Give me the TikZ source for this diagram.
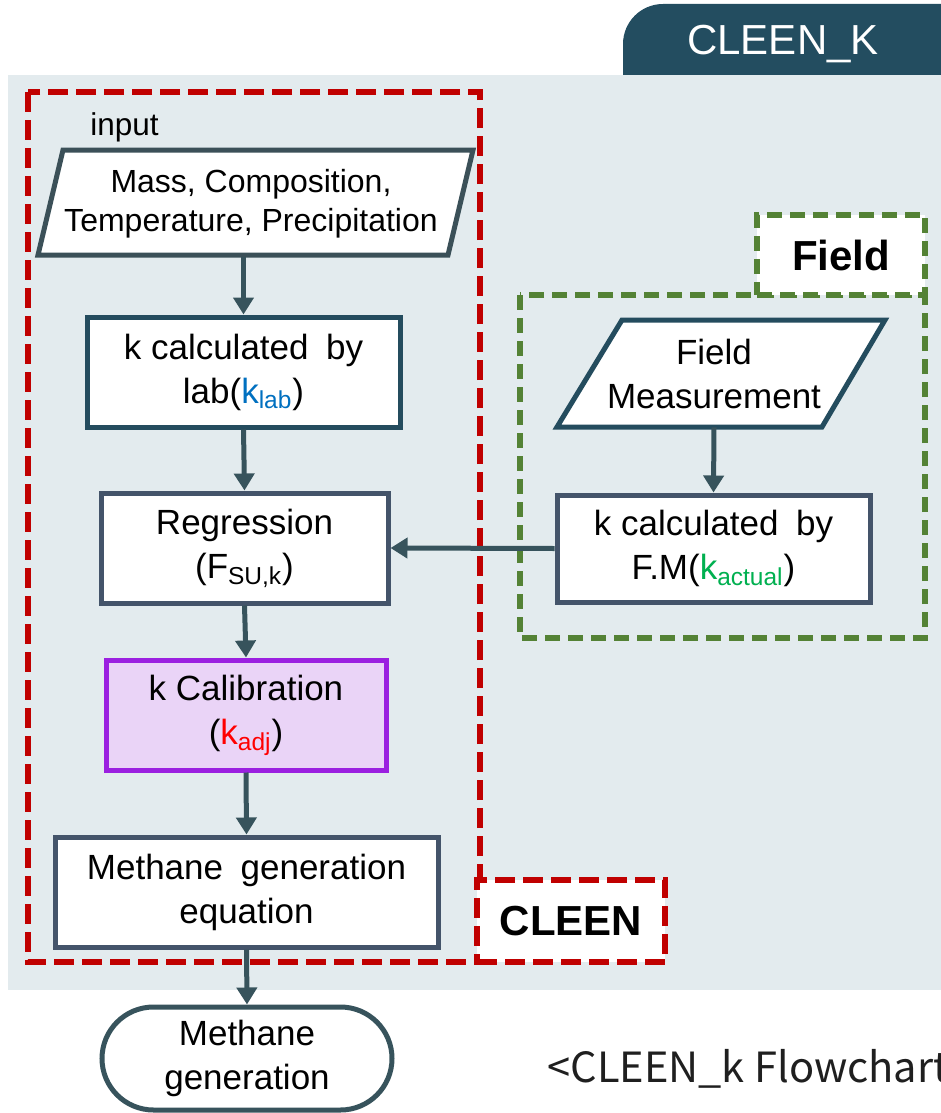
\documentclass[tikz,border=0pt]{standalone}
\usepackage{fontspec}
\setmainfont{Liberation Sans}
\newfontfamily\capfont{Noto Sans CJK KR}
\usetikzlibrary{arrows.meta,calc}
\definecolor{panel}{HTML}{E3EBEE}
\definecolor{tabc}{HTML}{234D60}
\definecolor{redd}{HTML}{C00000}
\definecolor{greend}{HTML}{548235}
\definecolor{boxa}{HTML}{244C5E}
\definecolor{boxb}{HTML}{44546A}
\definecolor{parac}{HTML}{3B5058}
\definecolor{arrc}{HTML}{37535C}
\definecolor{calb}{HTML}{9B20E0}
\definecolor{calf}{HTML}{EAD4F7}
\definecolor{kblue}{HTML}{0070C0}
\definecolor{kgreen}{HTML}{00B050}
\definecolor{kred}{HTML}{FF0000}
\newcommand\fsz[2]{\fontsize{#1}{#2}\selectfont}
\begin{document}
\begin{tikzpicture}[x=0.5pt,y=-0.5pt,
  every node/.style={inner sep=0pt, align=center},
  flowbox/.style={draw=#1, line width=2.5pt, fill=white, font=\fsz{17.5}{22}},
  paratext/.style={font=\fsz{17.5}{22}},
  arr/.style={draw=arrc, line width=2.5pt, -{Triangle[width=10pt,length=8.5pt]}},
  reddash/.style={draw=redd, line width=3pt, dash pattern=on 10pt off 4pt},
  greendash/.style={draw=greend, line width=3pt, dash pattern=on 7.5pt off 4pt},
  parashape/.style={draw=#1, line width=2.5pt, fill=white, line join=miter},
  lblbox/.style={fill=white, line width=3pt, font=\bfseries\fsz{21}{25}},
]
\path[use as bounding box] (0,0) rectangle (941,1113);
\clip (0,0) rectangle (941,1113);
% tab and panel
\fill[tabc, rounded corners=20pt] (623,4) rectangle (1000,200);
\node[anchor=base, text=white, font=\fsz{21}{25}] (tabt) at (783,55) {CLEEN\_K};
\fill[panel] (8,75) rectangle (1000,990);
% group frames
\draw[reddash] (28,92) rectangle (480,962);
\draw[greendash] (520,295) rectangle (925,638);
\node[lblbox, draw=redd, dash pattern=on 10pt off 4pt, minimum width=94pt, minimum height=41pt] (cleenlbl) at (571,921) {CLEEN};
\node[lblbox, draw=greend, dash pattern=on 7.5pt off 4pt, minimum width=84pt, minimum height=40pt] (fieldlbl) at (841,255) {Field};
% input
\node[anchor=base west, font=\fsz{15.75}{19}] (inlbl) at (90,135) {input};
\draw[parashape=parac] (63,150) -- (473,150) -- (448,255) -- (38,255) -- cycle;
\node[font=\fsz{16}{19.5}, minimum width=217.5pt, minimum height=52.5pt] (in) at (251,204)
  {Mass, Composition,\\Temperature, Precipitation};
% field measurement
\draw[parashape=boxa] (622,320) -- (885,320) -- (822,427) -- (557,427) -- cycle;
\node[paratext, minimum width=164pt, minimum height=53.5pt] (fmp) at (714,373.5)
  {Field\\Measurement};
% boxes
\node[flowbox=boxa, minimum width=156.5pt, minimum height=55pt] (lab) at (243.5,372)
  {k calculated\enspace by\\lab(\textcolor{kblue}{k\textsubscript{lab}})};
\node[flowbox=boxb, minimum width=143.5pt, minimum height=55pt] (reg) at (244.5,548)
  {Regression\\(F\textsubscript{SU,k})};
\node[flowbox=calb, fill=calf, minimum width=140pt, minimum height=55pt] (cal) at (246,715)
  {k Calibration\\(\textcolor{kred}{k\textsubscript{adj}})};
\node[flowbox=boxb, minimum width=191.5pt, minimum height=55pt] (eq) at (246.5,892)
  {Methane\enspace generation\\equation};
\node[flowbox=boxb, minimum width=156.5pt, minimum height=53.5pt] (fm) at (713.5,548.5)
  {k calculated\enspace by\\F.M(\textcolor{kgreen}{k\textsubscript{actual}})};
\node[flowbox=arrc, rounded corners=25.75pt, minimum width=145pt, minimum height=51.5pt] (meth) at (247,1058.5)
  {Methane\\generation};
% caption
\node[anchor=base west, font=\capfont\fsz{20.8}{25}, text=black!88] (cap) at (547,1082) {<CLEEN\_k Flowchart>};
% connectors
\draw[arr] (in.south -| lab.north) -- (lab.north);
\draw[arr] (lab.south) -- (reg.north);
\draw[arr] (reg.south) -- (cal.north);
\draw[arr] (cal.south) -- (eq.north);
\draw[arr] (eq.south) -- (meth.north);
\draw[arr] (fmp.south) -- (fm.north);
\draw[arr] (fm.west) -- (reg.east);
\end{tikzpicture}
\end{document}
